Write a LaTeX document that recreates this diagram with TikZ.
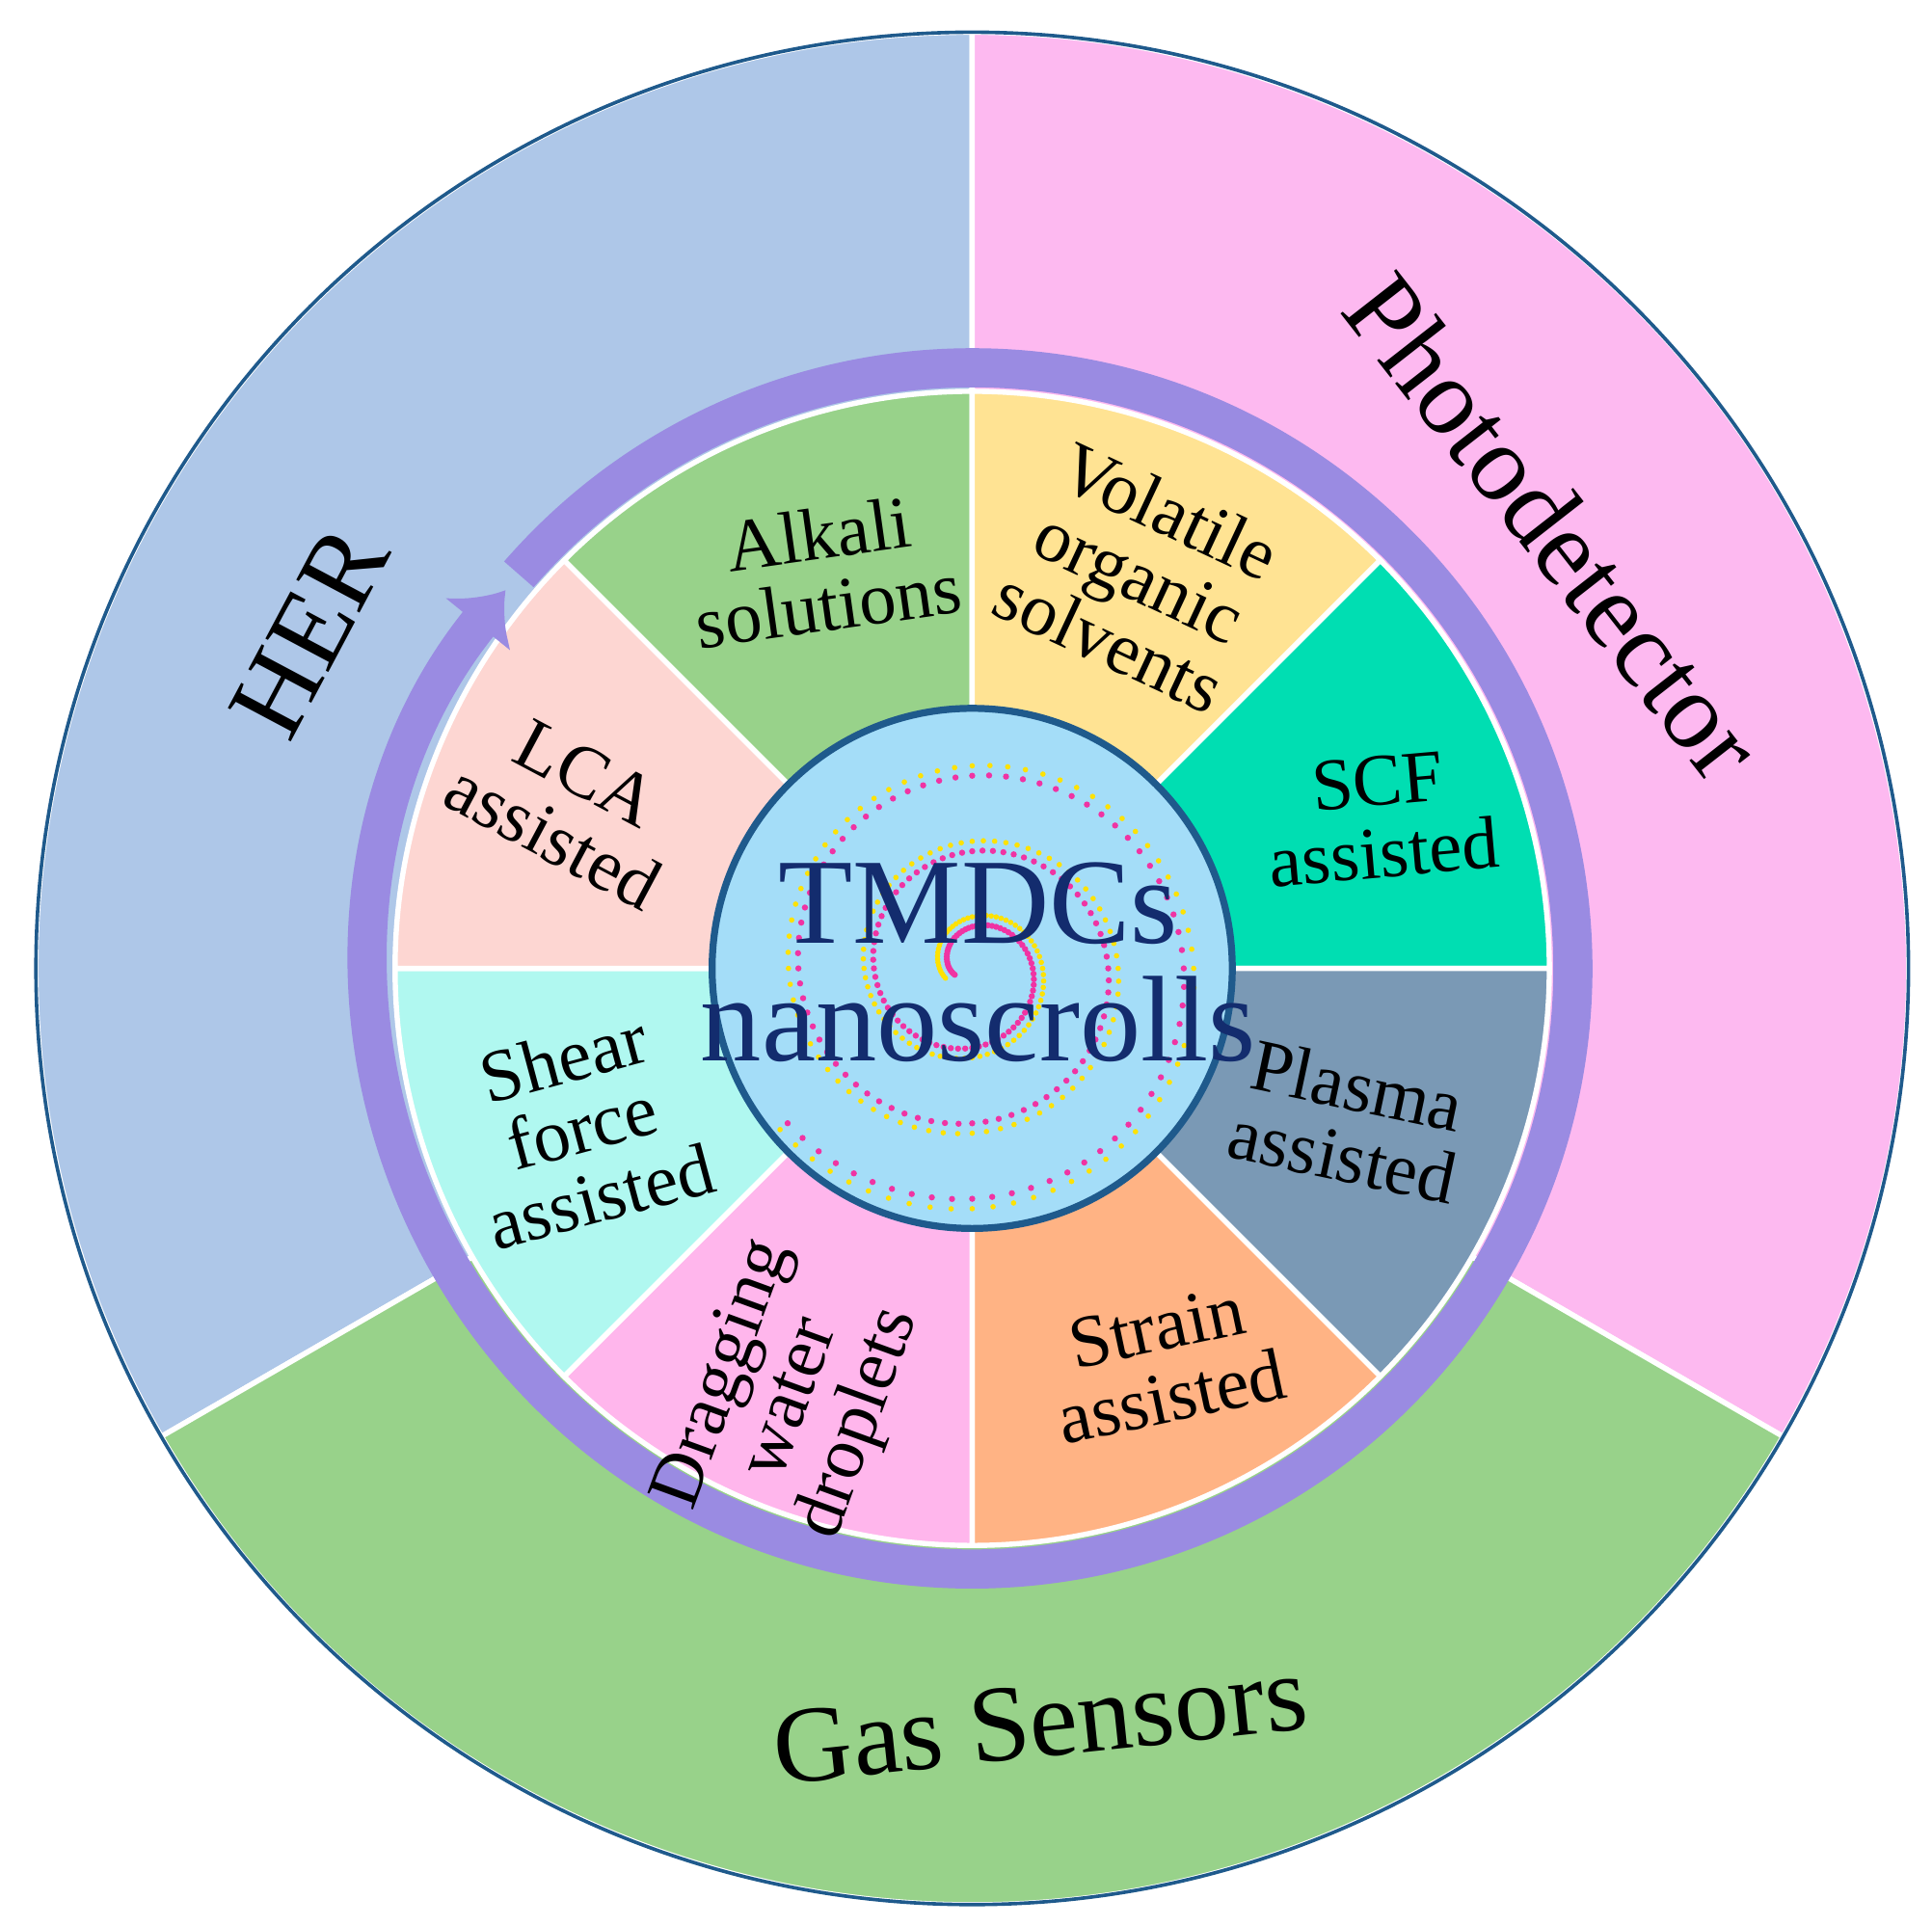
\documentclass[tikz,border=0pt]{standalone}
\usepackage{fontspec}
\setmainfont{Liberation Serif}
\usetikzlibrary{arrows.meta}

\definecolor{herblue}{HTML}{AEC7E8}
\definecolor{photopink}{HTML}{FDB9F0}
\definecolor{gasgreen}{HTML}{98D28A}
\definecolor{ringviolet}{HTML}{9A8BE2}
\definecolor{coreblue}{HTML}{A4DDF8}
\definecolor{coreedge}{HTML}{1F5A8C}
\definecolor{corenavy}{HTML}{132C6E}

\begin{document}
\begin{tikzpicture}[
    sector/.style={draw=white, line width=1.2pt},
    outerlabel/.style={font=\fontsize{25}{28}\selectfont, align=center},
    wedgelabel/.style={font=\fontsize{17}{16.5}\selectfont, align=center}
]
\useasboundingbox (-7.85,-7.73) rectangle (7.75,7.82);

% outer ring
\coordinate (c) at (0,0);
\filldraw[sector, fill=herblue] (c) -- (90:7.56) arc (90:210:7.56) -- cycle;
\filldraw[sector, fill=photopink] (c) -- (-30:7.56) arc (-30:90:7.56) -- cycle;
\filldraw[sector, fill=gasgreen] (c) -- (210:7.56) arc (210:330:7.56) -- cycle;
\draw[coreedge, line width=0.8pt] (c) circle (7.56);

% inner wedges
\foreach \a/\col in {90/98D28A, 45/FFE393, 0/00DEB2, -45/7A99B5, -90/FFB384,
                     225/FFB6EC, 180/B0F8F0, 135/FDD6D2} {
  \definecolor{wc}{HTML}{\col}
  \filldraw[sector, fill=wc] (c) -- (\a:4.66) arc (\a:\a+45:4.66) -- cycle;
}

% violet ring with arrow
\draw[ringviolet, line width=9pt, -{Latex[length=10pt,width=20pt]}]
  (139:4.85) arc (139:-219:4.85);

% core
\filldraw[fill=coreblue, draw=coreedge, line width=1.6pt] (c) circle (2.1);
\foreach \t in {0,5,...,1060} {
  \pgfmathsetmacro{\r}{0.15+0.0017*\t}
  \fill[magenta!80] ({-\t+200}:\r) circle (0.025);
  \fill[yellow!85!orange] ({-\t+200}:\r+0.08) circle (0.022);
}
\node[font=\fontsize{28}{27}\selectfont, text=corenavy, align=center] (core)
  at (0.05,0.05) {TMDCs\\nanoscrolls};

% labels
\node[outerlabel, rotate=62] (her) at (-5.35,2.72) {HER};
\node[outerlabel, rotate=-52] (photo) at (4.7,3.57) {Photodetector};
\node[outerlabel, rotate=6] (gas) at (0.55,-6.08) {Gas Sensors};

\node[wedgelabel, rotate=8] (alkali) at (-1.2,3.22) {Alkali\\solutions};
\node[wedgelabel, rotate=-25] (volatile) at (1.35,3.17) {Volatile\\organic\\solvents};
\node[wedgelabel, rotate=5] (scf) at (3.3,1.22) {SCF\\assisted};
\node[wedgelabel, rotate=-12] (plasma) at (3.05,-1.23) {Plasma\\assisted};
\node[wedgelabel, rotate=12] (strain) at (1.55,-3.18) {Strain\\assisted};
\node[wedgelabel, rotate=70] (dragging) at (-1.45,-3.48) {Dragging\\water\\droplets};
\node[wedgelabel, rotate=15] (shear) at (-3.15,-1.28) {Shear\\force\\assisted};
\node[wedgelabel, rotate=-28] (lca) at (-3.25,1.32) {LCA\\assisted};
\end{tikzpicture}
\end{document}
